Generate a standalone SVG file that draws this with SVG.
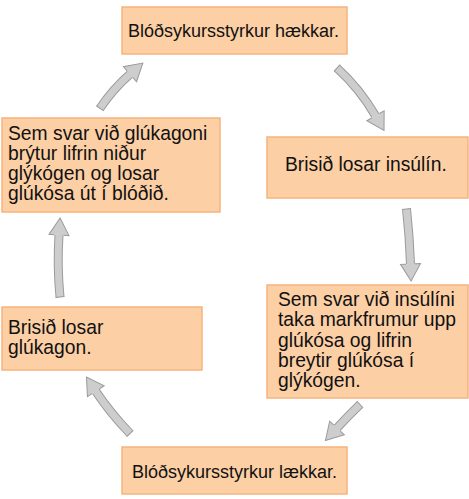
<svg xmlns="http://www.w3.org/2000/svg" width="469" height="499" viewBox="0 0 469 499">
<style>
.box{fill:#fccfa5;stroke:#f5b47e;stroke-width:1.5}
.t{font-family:"Liberation Sans",Arial,sans-serif;fill:#111}
.big{font-size:19.3px}
.mid{font-size:18px}
.ao{fill:none;stroke:#9b9b9b;stroke-width:9}
.ai{fill:none;stroke:#cdcdcd;stroke-width:7;marker-start:url(#tail);marker-end:url(#head)}
</style>
<defs>
<marker id="head" markerUnits="userSpaceOnUse" orient="auto" overflow="visible" markerWidth="1" markerHeight="1" refX="0" refY="0">
<path d="M0,-10 L17,0 L0,10 Z" fill="#cdcdcd"/>
<path d="M0,-4.5 L0,-10 L17,0 L0,10 L0,4.5" fill="none" stroke="#9b9b9b" stroke-width="1"/>
</marker>
<marker id="tail" markerUnits="userSpaceOnUse" orient="auto" overflow="visible" markerWidth="1" markerHeight="1" refX="0" refY="0">
<path d="M0,-4.5 L0,4.5" fill="none" stroke="#9b9b9b" stroke-width="1"/>
</marker>
</defs>
<rect width="469" height="499" fill="#ffffff"/>
<g id="connectors">
<path class="ao" d="M100,108.3 Q113.4,88.6 130,74.2"/>
<path class="ai" d="M100,108.3 Q113.4,88.6 130,74.2"/>
<path class="ao" d="M337,68 Q360,89 375.5,115.8"/>
<path class="ai" d="M337,68 Q360,89 375.5,115.8"/>
<path class="ao" d="M406.5,209 Q409.5,236 410.5,264"/>
<path class="ai" d="M406.5,209 Q409.5,236 410.5,264"/>
<path class="ao" d="M360,404.5 Q349,415 337,428"/>
<path class="ai" d="M360,404.5 Q349,415 337,428"/>
<path class="ao" d="M130,433.5 Q109.5,412 95.8,391.2"/>
<path class="ai" d="M130,433.5 Q109.5,412 95.8,391.2"/>
<path class="ao" d="M60,297 Q57,266 59,235"/>
<path class="ai" d="M60,297 Q57,266 59,235"/>
</g>
<g id="n-top">
<rect class="box" x="122" y="7" width="225" height="47"/>
<text class="t mid" x="128" y="37">Blóðsykursstyrkur hækkar.</text>
</g>
<g id="n-insulin">
<rect class="box" x="267" y="137" width="201" height="61"/>
<text class="t big" x="285" y="171">Brisið losar insúlín.</text>
</g>
<g id="n-uptake">
<rect class="box" x="267" y="285" width="201" height="113"/>
<text class="t big"><tspan x="278" y="305.5">Sem svar við insúlíni</tspan><tspan x="278" y="326">taka markfrumur upp</tspan><tspan x="278" y="346.5">glúkósa og lifrin</tspan><tspan x="278" y="367">breytir glúkósa í</tspan><tspan x="278" y="387">glýkógen.</tspan></text>
</g>
<g id="n-bottom">
<rect class="box" x="122" y="447" width="225" height="47"/>
<text class="t mid" x="132" y="478">Blóðsykursstyrkur lækkar.</text>
</g>
<g id="n-glucagon">
<rect class="box" x="2" y="307" width="200" height="63"/>
<text class="t big"><tspan x="8" y="333.5">Brisið losar</tspan><tspan x="8" y="353.5">glúkagon.</tspan></text>
</g>
<g id="n-release">
<rect class="box" x="2" y="118" width="218" height="94"/>
<text class="t big"><tspan x="8" y="140">Sem svar við glúkagoni</tspan><tspan x="8" y="160">brýtur lifrin niður</tspan><tspan x="8" y="180">glýkógen og losar</tspan><tspan x="8" y="200">glúkósa út í blóðið.</tspan></text>
</g>
</svg>
